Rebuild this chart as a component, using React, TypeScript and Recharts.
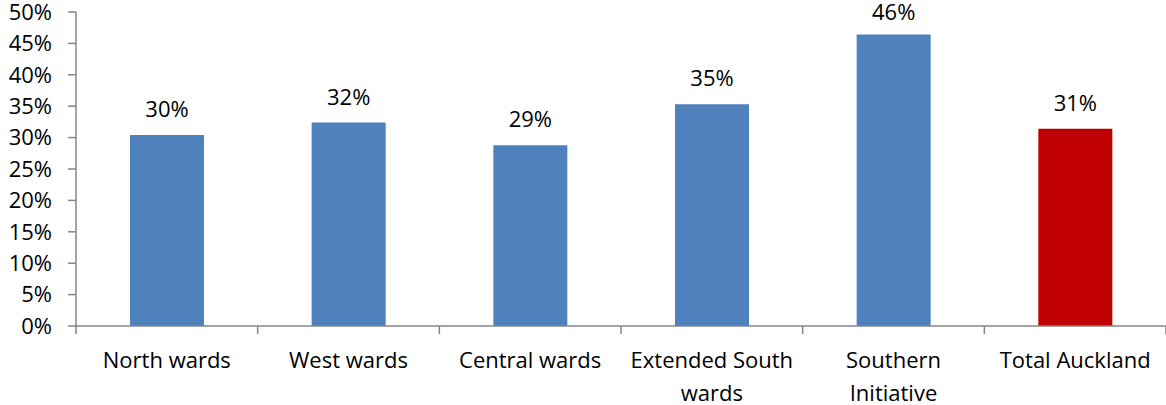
import React from "react";
import { BarChart, Bar, XAxis, YAxis, LabelList, Cell } from "recharts";

const categories = [
  "North wards",
  "West wards",
  "Central wards",
  "Extended South wards",
  "Southern Initiative",
  "Total Auckland",
];
const shares = [30.4, 32.4, 28.8, 35.3, 46.4, 31.4];
const barColors = ["#4F81BD", "#4F81BD", "#4F81BD", "#4F81BD", "#4F81BD", "#C00000"];
const yTicks = [0, 5, 10, 15, 20, 25, 30, 35, 40, 45, 50];
const tickLines: Record<string, string[]> = {
  "Extended South wards": ["Extended South", "wards"],
  "Southern Initiative": ["Southern", "Initiative"],
};

const data = categories.map((name, i) => ({ name, value: shares[i] }));

const FONT = "'Open Sans', sans-serif";
const AXIS = "#868686";

function XTick(props: any) {
  const { x, y, payload, index } = props;
  const half = payload.offset || 0;
  const lines = tickLines[payload.value] || [payload.value];
  return (
    <g>
      <line x1={x - half} y1={y} x2={x - half} y2={y + 8} stroke={AXIS} strokeWidth={1.5} />
      {index === categories.length - 1 && (
        <line x1={x + half} y1={y} x2={x + half} y2={y + 8} stroke={AXIS} strokeWidth={1.5} />
      )}
      {lines.map((t, i) => (
        <text
          key={i}
          x={x}
          y={y + 42 + i * 33}
          textAnchor="middle"
          fontFamily={FONT}
          fontSize={22}
          fill="#000"
        >
          {t}
        </text>
      ))}
    </g>
  );
}

function YTick(props: any) {
  const { x, y, payload } = props;
  return (
    <text x={x} y={y} textAnchor="end" dy="0.35em" fontFamily={FONT} fontSize={22} fill="#000">
      {payload.value}%
    </text>
  );
}

function BarLabel(props: any) {
  const { x, y, width, value } = props;
  return (
    <text
      x={x + width / 2}
      y={Math.max(y - 18, 20)}
      textAnchor="middle"
      fontFamily={FONT}
      fontSize={22}
      fill="#000"
    >
      {Math.round(value)}%
    </text>
  );
}

export default function App() {
  return (
    <div style={{ position: "absolute", left: 0, top: 0, background: "#fff" }}>
      <BarChart
        width={1166}
        height={405}
        data={data}
        margin={{ top: 12, right: 0, left: 0, bottom: 0 }}
      >
        <XAxis
          dataKey="name"
          stroke={AXIS}
          strokeWidth={1.5}
          tickLine={false}
          tickSize={0}
          tickMargin={0}
          height={79}
          interval={0}
          tick={<XTick />}
        />
        <YAxis
          width={76}
          domain={[0, 50]}
          ticks={yTicks}
          stroke={AXIS}
          strokeWidth={1.5}
          tickSize={8}
          tickMargin={16}
          interval={0}
          tick={<YTick />}
        />
        <Bar dataKey="value" barSize={74} isAnimationActive={false}>
          {data.map((d, i) => (
            <Cell key={d.name} fill={barColors[i]} />
          ))}
          <LabelList dataKey="value" content={<BarLabel />} />
        </Bar>
      </BarChart>
    </div>
  );
}
